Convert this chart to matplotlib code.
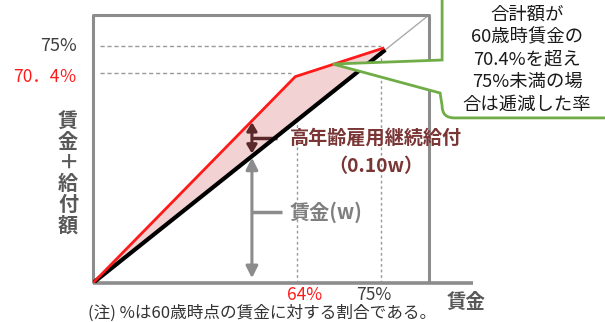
import matplotlib
matplotlib.use("Agg")
import matplotlib.pyplot as plt
from matplotlib.path import Path
from matplotlib.patches import PathPatch

plt.rcParams['font.family'] = ['Noto Sans CJK JP', 'DejaVu Sans']

# schematic data (axis units 0-100 for wage and wage+benefit)
red_x = [0, 60.2, 86.3]          # wage
red_y = [0, 77.0, 87.6]          # wage + benefit
black_x = [0, 87.0]
black_y = [0, 87.0]
level_75 = 88.3
level_704 = 78.2
wage_64 = 60.7
wage_75 = 85.8
arrow_x = 47.3
left_labels = ["75%", "70．4％"]
x_labels = ["64%", "75%"]
callout_lines = ["合計額が", "60歳時賃金の", "70.4%を超え", "75%未満の場", "合は逓減した率"]

W, H = 605, 322
fig = plt.figure(figsize=(W / 100, H / 100), dpi=100)
ax_l, ax_b, ax_w, ax_h = 93, 283, 336, 268
ax = fig.add_axes([ax_l / W, (H - ax_b) / H, ax_w / W, ax_h / H])
ax.set_xlim(0, 100)
ax.set_ylim(0, 100)
ax.axis('off')

gray = '#8c8c8c'
dark = '#404040'
red = '#ff1a1a'
maroon = '#7a3535'

# frame
ax.plot([0, 0, 100, 100], [0, 100, 100, 0], color=gray, lw=2.2, clip_on=False, solid_capstyle='butt', zorder=2)
ax.plot([0, 113], [0, 0], color=gray, lw=2.6, clip_on=False, solid_capstyle='butt', zorder=2)

# dashed guides
ax.plot([2, wage_75], [level_75, level_75], color='#999999', lw=1, ls=(0, (3, 2)), zorder=1)
ax.plot([2, 59], [level_704, level_704], color='#999999', lw=1, ls=(0, (3, 2)), zorder=1)
ax.plot([wage_64, wage_64], [0, red_y[1]], color='#999999', lw=1, ls=(0, (2, 2)), zorder=1)
ax.plot([wage_75, wage_75], [0, black_y[1]], color='#999999', lw=1, ls=(0, (2, 2)), zorder=1)

# diagonal continuation
ax.plot([black_x[1], 100], [black_y[1], 100], color='#aaaaaa', lw=1, zorder=1)

# fill between red and black
ax.fill(list(red_x) + [black_x[1], 0], list(red_y) + [black_y[1], 0], color='#f2d2d2', zorder=1, lw=0)

ax.plot(black_x, black_y, color='black', lw=3.0, solid_capstyle='butt', zorder=3)
ax.plot(red_x, red_y, color=red, lw=2.0, zorder=4)

# arrows
y_black = arrow_x
y_red = arrow_x * red_y[1] / red_x[1]
ax.annotate('', xy=(arrow_x, 1.8), xytext=(arrow_x, y_black - 0.5),
            arrowprops=dict(arrowstyle='<|-|>,head_length=0.7,head_width=0.35', color=gray, lw=2.2, shrinkA=0, shrinkB=0))
ax.plot([arrow_x, 56.3], [26.5, 26.5], color=gray, lw=2.5, solid_capstyle='butt')
ax.annotate('', xy=(arrow_x, y_red - 0.5), xytext=(arrow_x, y_black + 1.0),
            arrowprops=dict(arrowstyle='<|-|>,head_length=0.5,head_width=0.3', color='#5a2a2a', lw=2.2, shrinkA=0, shrinkB=0))
ax.plot([arrow_x, 54.8], [54.1, 54.1], color='#5a2a2a', lw=2.5, solid_capstyle='butt')

ax.text(58.6, 26.5, "賃金(w)", color='#7f7f7f', fontsize=14.5, fontweight='bold', ha='left', va='center')
ax.text(84.2, 54.1, "高年齢雇用継続給付", color=maroon, fontsize=13.8, fontweight='bold', ha='center', va='center', clip_on=False)
ax.text(84.2, 43.3, "（0.10w）", color=maroon, fontsize=13.8, fontweight='bold', ha='center', va='center')

# left labels
ax.text(-4.8, level_75, left_labels[0], color=dark, fontsize=13, ha='right', va='center')
ax.text(-4.8, level_704 - 1.5, left_labels[1], color=red, fontsize=12.5, ha='right', va='center')
ax.text(-7.4, 41.2, "\n".join("賃金＋給付額"), color='#595959', fontsize=14.5, fontweight='bold',
        ha='center', va='center', linespacing=1.0)

# x labels
ax.text(63.1, -4.5, x_labels[0], color=red, fontsize=12.5, ha='center', va='center', clip_on=False)
ax.text(83.6, -4.5, x_labels[1], color=dark, fontsize=12.5, ha='center', va='center', clip_on=False)
ax.text(111, -7.1, "賃金", color='#595959', fontsize=14, fontweight='bold', ha='center', va='center')
ax.text(-1.5, -11.2, "(注) %は60歳時点の賃金に対する割合である。", color='#333333', fontsize=12,
        ha='left', va='center')

# callout
green = '#70ad47'
bx_l, bx_b, bx_r, bx_t = 103.9, 61.6, 160, 110
r = 4.5
verts = [(bx_l, bx_t), (bx_l, 83.2), (71.4, 81.7), (103.3, 70.9),
         (bx_l, bx_b + r), (bx_l, bx_b), (bx_l + r * 0.8, bx_b), (bx_r, bx_b), (bx_r, bx_t), (bx_l, bx_t)]
codes = [Path.MOVETO, Path.LINETO, Path.LINETO, Path.LINETO,
         Path.LINETO, Path.CURVE3, Path.CURVE3, Path.LINETO, Path.LINETO, Path.CLOSEPOLY]
ax.add_patch(PathPatch(Path(verts, codes), facecolor='white', edgecolor=green, lw=2.0,
                       clip_on=False, zorder=6, joinstyle='miter'))
ys = [(283 - py) / 268 * 100 for py in (15, 37.5, 60, 82, 104.5)]
for line, yy in zip(callout_lines, ys):
    ax.text(129.2, yy, line, color='#1a1a1a', fontsize=13.2, ha='center', va='center', zorder=7, clip_on=False)

fig.savefig("out.png", dpi=100)
